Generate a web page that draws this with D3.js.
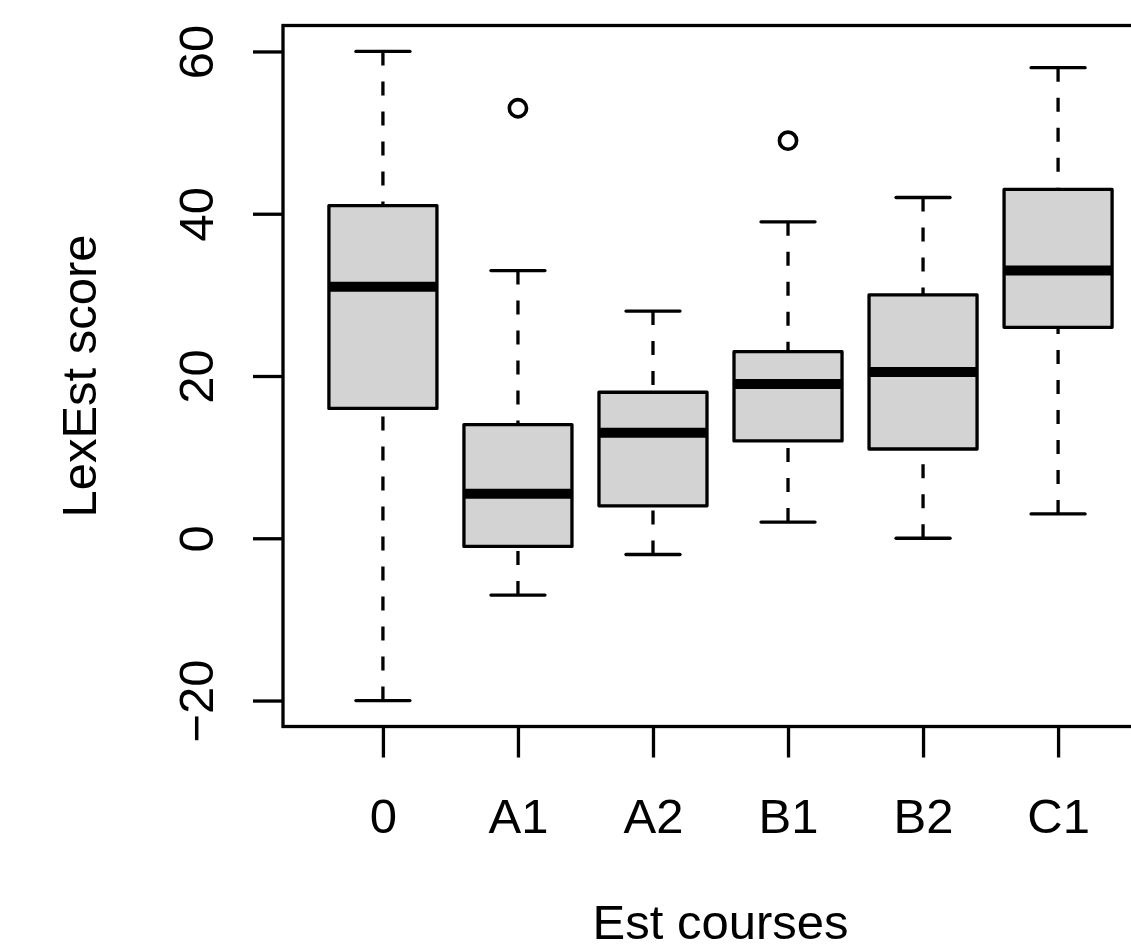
<!DOCTYPE html>
<html>
<head>
<meta charset="utf-8">
<script src="https://cdn.jsdelivr.net/npm/d3@7"></script>
<style>
  html, body { margin: 0; padding: 0; background: #fff; overflow: hidden; }
  svg { display: block; }
  text { font-family: "Liberation Sans", Arial, Helvetica, sans-serif; fill: #000; }
</style>
</head>
<body>
<svg id="chart" width="1131" height="951"></svg>
<script>
const categories = ["0", "A1", "A2", "B1", "B2", "C1"];
const lowerWhisker = [-20, -7, -2, 2, 0, 3];
const q1 = [16, -1, 4, 12, 11, 26];
const median = [31, 5.5, 13, 19, 20.5, 33];
const q3 = [41, 14, 18, 23, 30, 43];
const upperWhisker = [60, 33, 28, 39, 42, 58];
const outliers = [[], [53], [], [49], [], []];
const yTicks = [-20, 0, 20, 40, 60];

const svg = d3.select("#chart");
const fontSize = "49px";
const lw = 3.3;

// R style: xlim 0.5..6.5 and ylim -20..60, both padded by 4%
const x = d3.scaleLinear().domain([0.26, 6.74]).range([283, 1158]);
const y = d3.scaleLinear().domain([-23.2, 63.2]).range([726.5, 25.5]);

const boxes = categories.map((c, i) => ({
  cat: c, pos: i + 1,
  lo: lowerWhisker[i], q1: q1[i], med: median[i], q3: q3[i], hi: upperWhisker[i],
  out: outliers[i]
}));

const halfBox = (x(1.4) - x(0.6)) / 2;
const halfCap = halfBox / 2;

const g = svg.append("g");

// whiskers (dashed), drawn from the whisker end toward the box
g.selectAll("line.wlo")
  .data(boxes)
  .enter()
  .append("line")
  .attr("x1", d => x(d.pos)).attr("x2", d => x(d.pos))
  .attr("y1", d => y(d.lo)).attr("y2", d => y(d.q1))
  .attr("stroke", "#000").attr("stroke-width", lw)
  .attr("stroke-dasharray", "14,16");

g.selectAll("line.whi")
  .data(boxes)
  .enter()
  .append("line")
  .attr("x1", d => x(d.pos)).attr("x2", d => x(d.pos))
  .attr("y1", d => y(d.hi)).attr("y2", d => y(d.q3))
  .attr("stroke", "#000").attr("stroke-width", lw)
  .attr("stroke-dasharray", "14,16");

// staples
["lo", "hi"].forEach(k => {
  g.selectAll("line.cap-" + k)
    .data(boxes)
    .enter()
    .append("line")
    .attr("x1", d => x(d.pos) - halfCap).attr("x2", d => x(d.pos) + halfCap)
    .attr("y1", d => y(d[k])).attr("y2", d => y(d[k]))
    .attr("stroke", "#000").attr("stroke-width", lw)
    .attr("stroke-linecap", "round");
});

// boxes
g.selectAll("rect.box")
  .data(boxes)
  .enter()
  .append("rect")
  .attr("x", d => x(d.pos) - halfBox)
  .attr("width", halfBox * 2)
  .attr("y", d => y(d.q3))
  .attr("height", d => y(d.q1) - y(d.q3))
  .attr("fill", "#d3d3d3")
  .attr("stroke", "#000").attr("stroke-width", lw)
  .attr("stroke-linejoin", "round");

// medians
g.selectAll("line.med")
  .data(boxes)
  .enter()
  .append("line")
  .attr("x1", d => x(d.pos) - halfBox).attr("x2", d => x(d.pos) + halfBox)
  .attr("y1", d => y(d.med)).attr("y2", d => y(d.med))
  .attr("stroke", "#000").attr("stroke-width", 10);

// outliers
g.selectAll("circle.out")
  .data(boxes.flatMap(d => d.out.map(v => ({ pos: d.pos, v: v }))))
  .enter()
  .append("circle")
  .attr("cx", d => x(d.pos))
  .attr("cy", d => y(d.v))
  .attr("r", 8.6)
  .attr("fill", "none")
  .attr("stroke", "#000").attr("stroke-width", 3.6);

// frame
svg.append("rect")
  .attr("x", x.range()[0]).attr("y", y.range()[1])
  .attr("width", x.range()[1] - x.range()[0])
  .attr("height", y.range()[0] - y.range()[1])
  .attr("fill", "none")
  .attr("stroke", "#000").attr("stroke-width", lw);

// y axis
const yAxis = svg.append("g")
  .attr("transform", `translate(${x.range()[0]},0)`)
  .call(d3.axisLeft(y).tickValues(yTicks).tickSize(30).tickFormat(d => d < 0 ? "\u2212" + Math.abs(d) : d));
yAxis.select(".domain").remove();
yAxis.selectAll(".tick line").attr("stroke", "#000").attr("stroke-width", lw);
yAxis.selectAll(".tick text")
  .attr("x", null).attr("dy", null)
  .attr("transform", "translate(-70,0) rotate(-90)")
  .attr("text-anchor", "middle")
  .attr("fill", "#000")
  .style("font-size", fontSize)
  .style("font-family", null);

// x axis
const xAxis = svg.append("g")
  .attr("transform", `translate(0,${y.range()[0]})`)
  .call(d3.axisBottom(x).tickValues(boxes.map(d => d.pos)).tickSize(31).tickFormat(p => categories[p - 1]));
xAxis.select(".domain").remove();
xAxis.selectAll(".tick line").attr("stroke", "#000").attr("stroke-width", lw);
xAxis.selectAll(".tick text")
  .attr("y", 106).attr("dy", null)
  .attr("fill", "#000")
  .style("font-size", fontSize)
  .style("font-family", null);

// axis titles
svg.append("text")
  .attr("transform", `translate(96,${(y.range()[0] + y.range()[1]) / 2}) rotate(-90)`)
  .attr("text-anchor", "middle")
  .style("font-size", fontSize)
  .text("LexEst score");

svg.append("text")
  .attr("x", (x.range()[0] + x.range()[1]) / 2)
  .attr("y", 939)
  .attr("text-anchor", "middle")
  .style("font-size", fontSize)
  .text("Est courses");
</script>
</body>
</html>
